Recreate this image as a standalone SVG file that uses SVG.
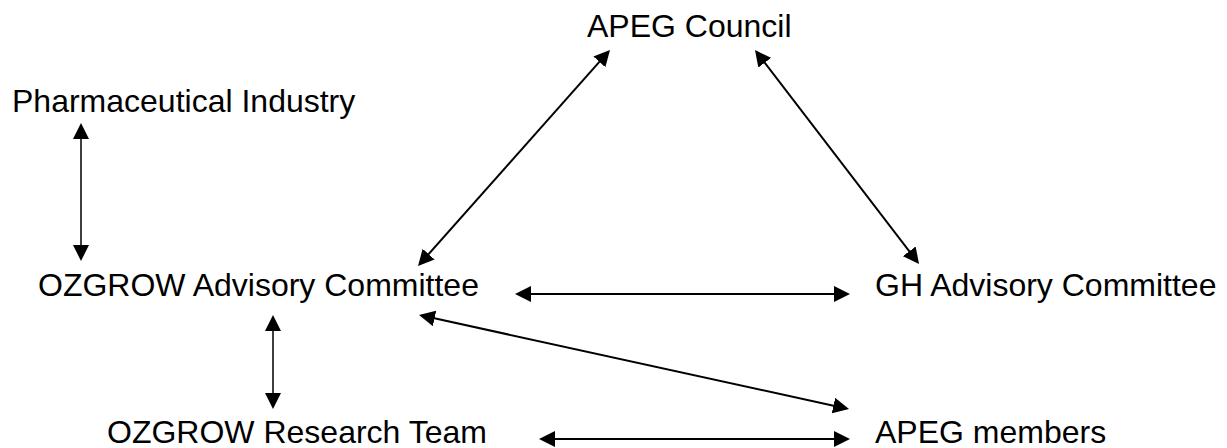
<svg xmlns="http://www.w3.org/2000/svg" width="1227" height="448" viewBox="0 0 1227 448">
<style>
.lbl{font-family:"Liberation Sans",Arial,sans-serif;font-size:32px;fill:#000}
.c{stroke:#000;stroke-width:2;fill:none;marker-start:url(#ah);marker-end:url(#ah)}
.thin{stroke-width:1.5}
</style>
<defs>
<marker id="ah" viewBox="0 0 16 16" refX="13" refY="8" markerWidth="16" markerHeight="16" markerUnits="userSpaceOnUse" orient="auto-start-reverse">
<path d="M0,0 L16,8 L0,16 Z" fill="#000"/>
</marker>
</defs>
<rect width="1227" height="448" fill="#fff"/>
<g id="connectors">
<line class="c thin" x1="81" y1="126" x2="81" y2="258"/>
<line class="c" x1="608" y1="52.2" x2="420" y2="263.8"/>
<line class="c" x1="756.8" y1="52.4" x2="917.2" y2="261.6"/>
<line class="c" x1="518" y1="294" x2="847" y2="294"/>
<line class="c" x1="421.9" y1="315.6" x2="846.1" y2="408.4"/>
<line class="c thin" x1="273" y1="318" x2="273" y2="406"/>
<line class="c" x1="542" y1="439" x2="847" y2="439"/>
</g>
<g id="apeg-council"><text class="lbl" x="587" y="37">APEG Council</text></g>
<g id="pharma"><text class="lbl" x="12" y="112">Pharmaceutical Industry</text></g>
<g id="ozgrow-advisory"><text class="lbl" x="38" y="296">OZGROW Advisory Committee</text></g>
<g id="gh-advisory"><text class="lbl" x="875" y="296">GH Advisory Committee</text></g>
<g id="ozgrow-research"><text class="lbl" x="107" y="443">OZGROW Research Team</text></g>
<g id="apeg-members"><text class="lbl" x="875" y="443">APEG members</text></g>
</svg>
